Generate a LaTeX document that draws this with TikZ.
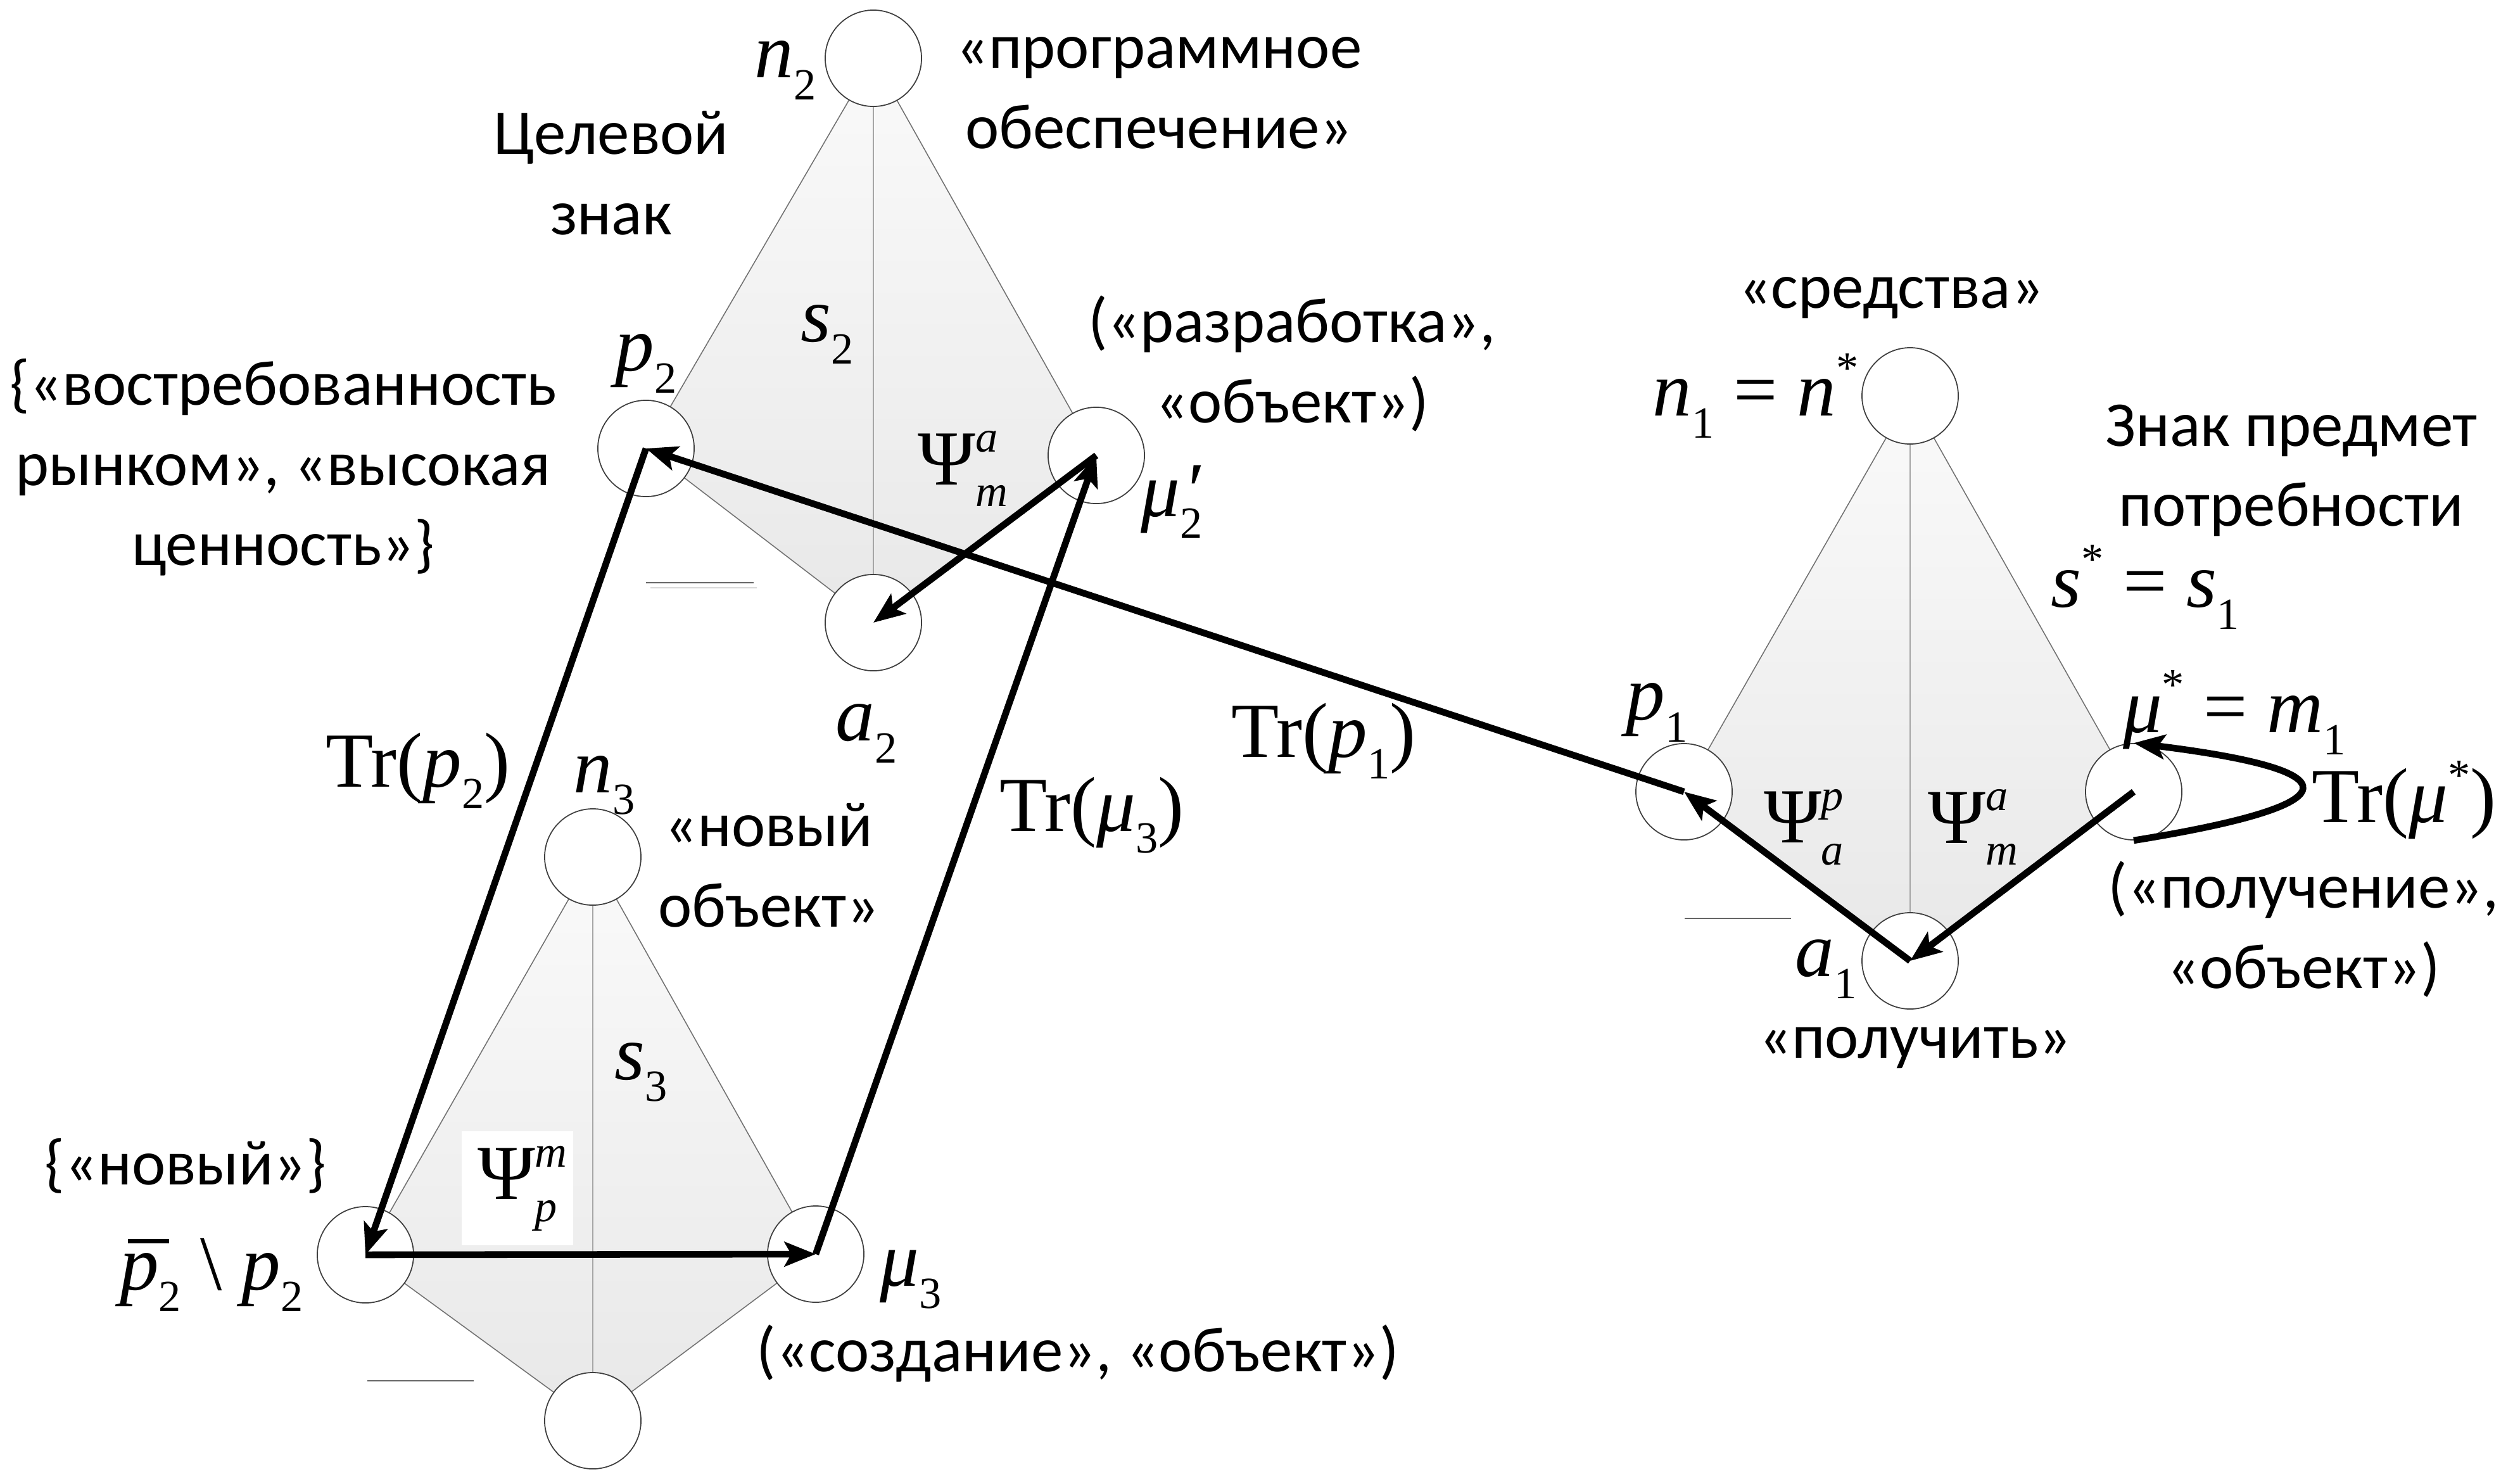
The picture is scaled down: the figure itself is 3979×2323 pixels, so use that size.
\documentclass[tikz,border=0pt]{standalone}
\usepackage{fontspec}
\setmainfont{Carlito}
\newfontfamily\mf{Liberation Serif}
\usetikzlibrary{arrows.meta}
\newcommand\msz{\fontsize{35}{40}\selectfont}
\newcommand\ssz{\fontsize{20}{20}\selectfont}
\newcommand\sbs[1]{\raisebox{-0.28em}{\ssz #1}}
\newcommand\sps[1]{\raisebox{0.42em}{\ssz #1}}
\newcommand\supsub[2]{\makebox[0pt][l]{\sps{\textit{#1}}}\sbs{\textit{#2}}}
\newcommand\pbar{\makebox[0pt][l]{\kern0.1em\rule[0.6em]{0.53em}{0.05em}}\textit{p}}
\tikzset{
  sgn/.style={circle, draw=black!75, line width=0.5pt, fill=white, minimum size=1.52cm, inner sep=0pt},
  edge/.style={draw=black!55, line width=0.45pt},
  vedge/.style={draw=black!35, line width=0.45pt},
  kite/.style={top color=black!2, bottom color=black!9},
  arr/.style={line width=3pt, -{Stealth[length=14pt,width=11pt,inset=3pt]}},
  loop/.style={line width=3pt, -{Stealth[length=14pt,width=11pt,inset=3pt]}},
  txt/.style={font=\fontsize{28.7}{36}\selectfont, align=center, inner sep=0pt},
  mth/.style={font=\mf\msz, inner sep=0pt},
  artline/.style={draw=black!60, line width=0.5pt},
  artline2/.style={draw=black!15, line width=0.5pt}
}
\begin{document}
\begin{tikzpicture}[x=0.01cm, y=-0.01cm]
\useasboundingbox (0,0) rectangle (3979,2323);
% coordinates
\coordinate (n2c) at (1379,92);
\coordinate (p2c) at (1020,708);
\coordinate (m2c) at (1731,719);
\coordinate (a2c) at (1379,983);
\coordinate (n3c) at (936,1353);
\coordinate (q3c) at (577,1981);
\coordinate (m3c) at (1288,1980);
\coordinate (b3c) at (936,2243);
\coordinate (n1c) at (3016,625);
\coordinate (p1c) at (2659,1250);
\coordinate (m1c) at (3369,1250);
\coordinate (a1c) at (3016,1517);
% kites
\shade[kite] (n2c) -- (p2c) -- (a2c) -- (m2c) -- cycle;
\draw[edge] (n2c) -- (p2c) -- (a2c) -- (m2c) -- cycle;
\draw[vedge] (n2c) -- (a2c);
\shade[kite] (n3c) -- (q3c) -- (b3c) -- (m3c) -- cycle;
\draw[edge] (n3c) -- (q3c) -- (b3c) -- (m3c) -- cycle;
\draw[vedge] (n3c) -- (b3c);
\shade[kite] (n1c) -- (p1c) -- (a1c) -- (m1c) -- cycle;
\draw[edge] (n1c) -- (p1c) -- (a1c) -- (m1c) -- cycle;
\draw[vedge] (n1c) -- (a1c);
% artifact lines
\draw[artline] (1020,920) -- (1190,920);
\draw[artline2] (1027,928) -- (1195,928);
\draw[artline] (580,2180) -- (748,2180);
\draw[artline] (2660,1450) -- (2828,1450);
% circles
\node[sgn] (n2) at (n2c) {};
\node[sgn] (p2) at (p2c) {};
\node[sgn] (m2) at (m2c) {};
\node[sgn] (a2) at (a2c) {};
\node[sgn] (n3) at (n3c) {};
\node[sgn] (q3) at (q3c) {};
\node[sgn] (m3) at (m3c) {};
\node[sgn] (b3) at (b3c) {};
\node[sgn] (n1) at (n1c) {};
\node[sgn] (p1) at (p1c) {};
\node[sgn] (m1) at (m1c) {};
\node[sgn] (a1) at (a1c) {};
% labels sign 2
\node[mth] (ln2) at (1240,111) {\textit{n}\sbs{2}};
\node[txt] (lprog) at (1830,147) {«программное\\обеспечение»};
\node[txt] (lcel) at (965,273) {Целевой\\знак};
\node[mth] (ls2) at (1306,528) {\textit{s}\sbs{2}};
\node[mth] (lp2) at (1020,574) {\textit{p}\sbs{2}};
\node[txt] (lvos) at (447,738) {\{«востребованность\\рынком», «высокая\\ценность»\}};
\node[txt] (lraz) at (2040,574) {(«разработка»,\\«объект»)};
\node[mth] (lpsi2) at (1520,740) {Ψ\supsub{a}{m}};
\node[mth] (lmu2) at (1850,792) {\textit{μ}\makebox[0pt][l]{\kern0.04em\textit{′}}\sbs{2}};
\node[mth] (la2) at (1368,1158) {\textit{a}\sbs{2}};
% labels sign 3
\node[mth] (ltrp2) at (660,1217) {Tr(\textit{p}\sbs{2})};
\node[mth] (ln3) at (954,1240) {\textit{n}\sbs{3}};
\node[txt] (lnov) at (1214,1366) {«новый\\объект»};
\node[mth] (ltrm3) at (1724,1287) {Tr(\textit{μ}\sbs{3})};
\node[mth] (ltrp1) at (2090,1170) {Tr(\textit{p}\sbs{1})};
\node[mth] (ls3) at (1012,1693) {\textit{s}\sbs{3}};
\node[txt] (lnov2) at (293,1841) {\{«новый»\}};
\node[mth] (lpb) at (334,2013) {\pbar\sbs{2} \textbackslash{} \textit{p}\sbs{2}};
\node[mth] (lmu3) at (1438,2020) {\textit{μ}\sbs{3}};
\node[txt] (lsoz) at (1702,2137) {(«создание», «объект»)};
% labels sign 1
\node[txt] (lsred) at (2986,470) {«средства»};
\node[mth] (ln1) at (2772,625) {\textit{n}\sbs{1} = \textit{n}\sps{*}};
\node[txt] (lznak) at (3618,743) {Знак предмет\\потребности};
\node[mth] (ls1) at (3387,927) {\textit{s}\sps{*} = \textit{s}\sbs{1}};
\node[mth] (lp1) at (2616,1125) {\textit{p}\sbs{1}};
\node[mth] (lmu1) at (3528,1125) {\textit{μ}\sps{*} = \textit{m}\sbs{1}};
\node[mth] (lpsi1a) at (2848,1306) {Ψ\supsub{p}{a}};
\node[mth] (lpsi1b) at (3115,1306) {Ψ\supsub{a}{m}};
\node[mth] (ltrmu) at (3796,1263) {Tr(\textit{μ}\sps{*})};
\node[txt] (lpol) at (3637,1467) {(«получение»,\\«объект»)};
\node[mth] (la1) at (2883,1530) {\textit{a}\sbs{1}};
\node[txt] (lpolu) at (3024,1654) {«получить»};
% arrows
\draw[arr] (p1.center) -- (p2.center);
\draw[arr] (a1.center) -- (p1.center);
\draw[arr] (m1.center) -- (a1.center);
\draw[loop] (m1.south) .. controls +(353,-57) and +(348,43) .. (m1.north);
\draw[arr] (p2.center) -- (q3.center);
\draw[arr] (q3.center) -- (m3.center);
\draw[arr] (m3.center) -- (m2.center);
\draw[arr] (m2.center) -- (a2.center);
% white box label
\node[mth, fill=white, minimum width=50pt, minimum height=51pt] (lpsi3) at (817,1876) {Ψ\supsub{m}{p}};
\end{tikzpicture}
\end{document}
